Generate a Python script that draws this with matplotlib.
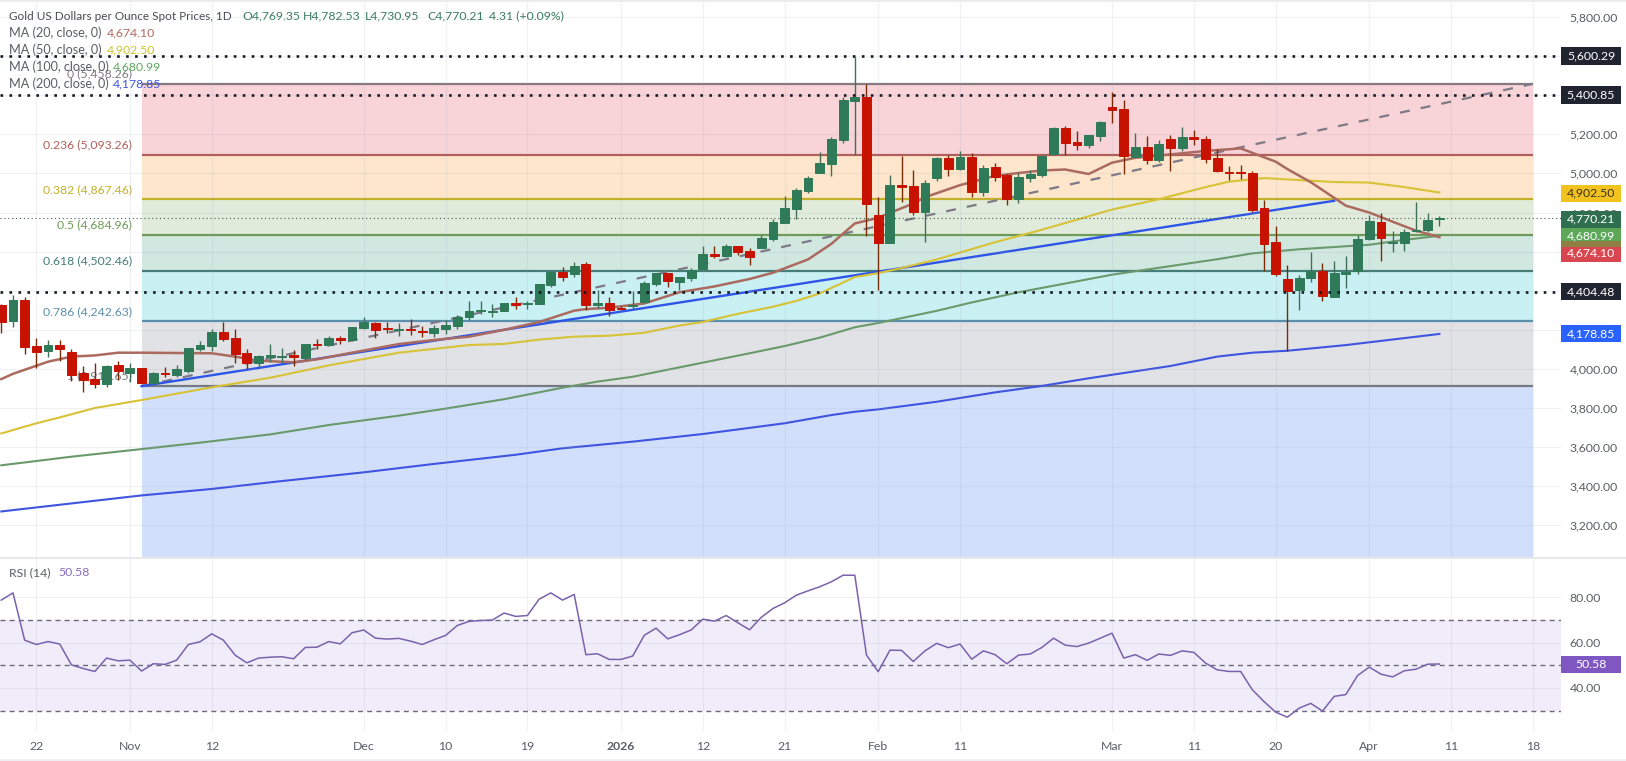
import matplotlib
matplotlib.use("Agg")
from matplotlib import pyplot as plt
from matplotlib.patches import Rectangle

# candles, one row per list, bar 0 is 17 Oct
opens = [4327, 4247, 4352, 4117, 4093, 4122, 4087, 3981, 3950, 3923, 4020, 3981, 4006, 3926, 3981, 3970, 3991, 4102, 4119, 4189,
         4156, 4080, 4032, 4063, 4063, 4073, 4057, 4127, 4124, 4160, 4148, 4209, 4233, 4208, 4201, 4204, 4192, 4185, 4204, 4221,
         4267, 4294, 4293, 4298, 4335, 4332, 4332, 4429, 4494, 4487, 4536, 4327, 4335, 4313, 4321, 4344, 4434, 4492, 4446, 4466,
         4512, 4587, 4577, 4628, 4603, 4618, 4664, 4748, 4819, 4910, 5003, 5049, 5172, 5372, 5392, 4787, 4645, 4940, 4935, 4804,
         4978, 5078, 5022, 5085, 4904, 5032, 4991, 4869, 4976, 4991, 5101, 5230, 5160, 5147, 5191, 5338, 5329, 5085, 5135, 5068,
         5176, 5128, 5186, 5176, 5079, 5005, 5005, 5000, 4821, 4649, 4458, 4404, 4467, 4501, 4369, 4487, 4501, 4663, 4750, 4642,
         4646, 4706, 4709, 4769.35]
highs = [4330, 4378, 4370, 4156, 4148, 4148, 4100, 4015, 4028, 4020, 4040, 4028, 4006, 3982, 4011, 4020, 4109, 4144, 4202, 4240,
         4202, 4100, 4073, 4126, 4105, 4097, 4126, 4151, 4168, 4170, 4213, 4264, 4242, 4242, 4233, 4255, 4221, 4224, 4250, 4275,
         4349, 4349, 4332, 4339, 4366, 4349, 4434, 4497, 4519, 4548, 4548, 4403, 4366, 4321, 4400, 4449, 4492, 4492, 4471, 4514,
         4630, 4628, 4639, 4628, 4616, 4685, 4768, 4884, 4923, 4986, 5111, 5184, 5392, 5597, 5455, 4877, 4991, 5089, 5020, 4966,
         5085, 5094, 5114, 5102, 5041, 5051, 4995, 5000, 5020, 5094, 5235, 5245, 5217, 5199, 5269, 5416, 5378, 5205, 5191, 5170,
         5196, 5239, 5222, 5191, 5123, 5038, 5043, 5014, 4864, 4731, 4531, 4479, 4596, 4543, 4552, 4578, 4683, 4787, 4796, 4705,
         4717, 4855, 4796, 4782.53]
lows = [4182, 4216, 4076, 4003, 4063, 4042, 3940, 3884, 3904, 3909, 3943, 3935, 3923, 3918, 3957, 3960, 3981, 4092, 4093, 4141,
        4028, 3999, 4008, 4037, 4037, 4017, 4046, 4104, 4121, 4127, 4144, 4206, 4158, 4185, 4168, 4173, 4165, 4165, 4178, 4202,
        4250, 4280, 4267, 4296, 4304, 4306, 4332, 4420, 4448, 4472, 4301, 4310, 4270, 4299, 4304, 4335, 4424, 4417, 4403, 4451,
        4509, 4569, 4574, 4581, 4533, 4616, 4656, 4748, 4765, 4898, 5003, 4988, 5157, 5094, 4681, 4403, 4645, 4852, 4787, 4650,
        4962, 4986, 5017, 4877, 4886, 4962, 4838, 4850, 4957, 4983, 5094, 5094, 5119, 5128, 5164, 5259, 4997, 5082, 5048, 5060,
        5014, 5114, 5145, 5055, 5009, 4966, 4971, 4804, 4502, 4477, 4093, 4301, 4446, 4347, 4369, 4415, 4485, 4659, 4552, 4596,
        4605, 4702, 4702, 4730.95]
closes = [4242, 4352, 4114, 4087, 4122, 4102, 3969, 3943, 3923, 4015, 3991, 4006, 3930, 3977, 3976, 3999, 4105, 4122, 4189, 4155,
          4076, 4032, 4066, 4071, 4066, 4059, 4126, 4122, 4156, 4148, 4213, 4240, 4199, 4203, 4206, 4197, 4188, 4207, 4224, 4267,
          4296, 4299, 4298, 4335, 4328, 4337, 4434, 4494, 4470, 4524, 4327, 4335, 4303, 4308, 4328, 4439, 4489, 4449, 4470, 4506,
          4587, 4577, 4628, 4599, 4574, 4669, 4749, 4821, 4915, 4974, 5051, 5176, 5375, 5389, 4846, 4645, 4940, 4932, 4804, 4949,
          5078, 5024, 5085, 4904, 5026, 4983, 4867, 4981, 4997, 5090, 5232, 5157, 5145, 5194, 5264, 5326, 5089, 5135, 5068, 5150,
          5131, 5186, 5174, 5075, 5014, 5000, 5000, 4813, 4639, 4484, 4397, 4463, 4501, 4375, 4489, 4497, 4664, 4757, 4668, 4647,
          4700, 4710, 4762, 4770.21]

ma20_idx = [0, 1, 4, 6, 8, 10, 12, 18, 20, 22, 25, 27, 30, 34, 37, 40, 43, 46, 49, 50, 52, 55, 58, 61, 64, 66, 69, 71, 73, 75,
            76, 78, 79, 82, 85, 87, 89, 91, 93, 95, 97, 100, 103, 106, 109, 110, 112, 115, 117, 119, 121, 123]
ma20_val = [3948, 3975, 4037, 4063, 4069, 4083, 4083, 4080, 4063, 4042, 4034, 4049, 4083, 4127, 4148, 4165, 4200, 4240, 4298,
            4306, 4313, 4335, 4392, 4422, 4460, 4492, 4560, 4640, 4744, 4773, 4798, 4846, 4878, 4940, 4988, 5002, 5015, 5020,
            4997, 5055, 5080, 5097, 5115, 5128, 5060, 5022, 4955, 4835, 4800, 4753, 4707, 4674.10]
ma50_idx = [0, 3, 5, 8, 12, 18, 23, 28, 34, 40, 43, 46, 49, 52, 55, 58, 60, 63, 66, 68, 70, 73, 75, 77, 80, 85, 89, 95, 99, 103,
            105, 108, 111, 114, 117, 120, 123]
ma50_val = [3670, 3722, 3752, 3800, 3841, 3906, 3955, 4018, 4083, 4122, 4128, 4150, 4165, 4170, 4185, 4222, 4240, 4282, 4318,
            4348, 4386, 4470, 4490, 4516, 4560, 4648, 4712, 4815, 4868, 4930, 4958, 4976, 4966, 4956, 4953, 4930, 4902.50]
ma100_idx = [0, 6, 12, 17, 23, 28, 34, 38, 43, 48, 51, 54, 60, 64, 67, 70, 73, 75, 80, 83, 87, 92, 95, 100, 104, 107, 111, 117,
             120, 123]
ma100_val = [3507, 3551, 3590, 3623, 3665, 3713, 3761, 3797, 3845, 3904, 3935, 3960, 4032, 4080, 4117, 4160, 4213, 4235, 4297,
             4340, 4392, 4448, 4482, 4526, 4561, 4591, 4612, 4635, 4660, 4680.99]
ma200_idx = [0, 6, 12, 18, 23, 31, 37, 44, 48, 54, 60, 67, 71, 73, 75, 80, 85, 89, 93, 100, 104, 107, 110, 115, 123]
ma200_val = [3271, 3312, 3353, 3386, 3420, 3471, 3514, 3561, 3594, 3628, 3667, 3722, 3764, 3781, 3793, 3832, 3880, 3913, 3952,
             4015, 4063, 4083, 4093, 4122, 4178.85]

rsi = [78.8, 82.0, 61.1, 59.2, 60.5, 59.4, 50.2, 48.6, 47.3, 53.2, 52.0, 52.3, 47.5, 50.7, 50.4, 52.3, 59.2, 60.4, 63.9, 61.1,
       54.5, 51.1, 53.2, 53.6, 53.8, 52.9, 57.9, 58.0, 60.5, 59.5, 64.4, 65.6, 62.0, 61.6, 61.9, 60.7, 59.2, 61.3, 63.2, 67.6,
       69.4, 69.8, 70.0, 73.1, 71.6, 72.0, 79.2, 82.0, 78.8, 81.3, 54.7, 55.1, 52.6, 52.6, 54.1, 63.3, 66.4, 61.7, 63.5, 65.6,
       70.4, 69.5, 72.0, 68.8, 65.7, 71.2, 75.1, 77.6, 81.0, 82.9, 84.7, 86.9, 89.8, 89.8, 54.5, 47.2, 56.7, 56.6, 51.7, 56.4,
       59.7, 57.8, 59.4, 52.7, 56.4, 54.7, 50.7, 54.5, 55.0, 57.9, 62.0, 58.9, 58.3, 59.8, 62.0, 64.2, 53.2, 54.7, 52.2, 55.0,
       54.4, 56.4, 55.7, 51.0, 48.0, 47.3, 47.3, 39.2, 34.0, 29.3, 27.1, 31.1, 33.2, 29.8, 36.3, 37.1, 45.5, 49.2, 46.1, 44.9,
       47.6, 48.3, 50.5, 50.58]

# fibonacci tool
fib_ratios = ["0", "0.236", "0.382", "0.5", "0.618", "0.786", "1"]
fib_levels = [5458.26, 5093.26, 4867.46, 4684.96, 4502.46, 4242.63, 3911.65]
fib_fills = ["#f8d3d8", "#fde6cb", "#e1ebdc", "#d1e8e1", "#c9f0f3", "#e1e2e5", "#d1dffb"]
fib_lines = ["#857a82", "#b05f5a", "#c4b02a", "#6e9c58", "#467d78", "#5b8fae", "#747a80"]

dotted_levels = [5600.29, 5400.85, 4396]
price_ticks = [5800, 5600, 5400, 5200, 5000, 4800, 4600, 4400, 4200, 4000, 3800, 3600, 3400, 3200]
rsi_ticks = [80, 60, 40]
date_idx = [3, 11, 18, 31, 38, 45, 53, 60, 67, 75, 82, 95, 102, 109, 117, 124, 131]
date_labels = ["22", "Nov", "12", "Dec", "10", "19", "2026", "12", "21", "Feb", "11", "Mar", "11", "20", "Apr", "11", "18"]

W, H = 1626, 761
FONT = "Lato"
GREY = "#5a5d66"
plt.rcParams["font.family"] = [FONT, "DejaVu Sans"]
plt.rcParams["font.size"] = 8.8

fig = plt.figure(figsize=(W / 100, H / 100), dpi=100, facecolor="white")


def px_axes(x0, y0, x1, y1):
    return fig.add_axes([x0 / W, 1 - y1 / H, (x1 - x0) / W, (y1 - y0) / H])


ax = px_axes(0, 0, 1561, 557)
ax_rsi = px_axes(0, 558, 1561, 731)

xlim = (-0.11, 133.4)
ax.set_xlim(xlim)
ax_rsi.set_xlim(xlim)
ax.set_ylim(3038, 5887)
ax_rsi.set_ylim(21, 97.4)

for a in (ax, ax_rsi):
    for s in a.spines.values():
        s.set_visible(False)
    a.yaxis.tick_right()
    a.tick_params(axis="y", length=0, pad=6.2, labelcolor=GREY, labelsize=8.8)
    a.tick_params(axis="x", length=0)
    a.set_xticks(date_idx)
    a.set_axisbelow(False)
    a.grid(True, color=(0.62, 0.66, 0.74), alpha=0.16, lw=0.8, zorder=1.5)

ax.set_yticks(price_ticks)
ax.set_yticklabels([f"{v:,.2f}" for v in price_ticks])
ax.tick_params(axis="x", labelbottom=False)

# fib bands and levels
bottoms = fib_levels[1:] + [ax.get_ylim()[0]]
for top, bot, col in zip(fib_levels, bottoms, fib_fills):
    ax.fill_between([12, 131], bot, top, color=col, lw=0, zorder=1)
for ratio, lvl, col in zip(fib_ratios, fib_levels, fib_lines):
    ax.plot([12, 131], [lvl, lvl], color=col, lw=1.6, solid_capstyle="butt", zorder=2)
    ax.annotate(f"{ratio} ({lvl:,.2f})", xy=(12, lvl), xytext=(-6.9, 7.2), textcoords="offset points",
                ha="right", va="center", color=col, fontsize=8.8, zorder=1.8)

# drawn trend lines
ax.plot([12, 131], [fib_levels[-1], fib_levels[0]], color="#7d7a86", lw=1.6, ls=(0, (4.5, 5)), zorder=2.2)
ax.plot([12, 114], [3912, 4860], color="#2f55e8", lw=1.7, zorder=2.4)

# moving averages
ax.plot(ma200_idx, ma200_val, color="#3f55e0", lw=1.5, zorder=2.4)
ax.plot(ma100_idx, ma100_val, color="#6a9a6c", lw=1.5, zorder=2.4)
ax.plot(ma50_idx, ma50_val, color="#d8c235", lw=1.5, zorder=2.4)
ax.plot(ma20_idx, ma20_val, color="#ab6a60", lw=1.8, zorder=2.6)

# candles
for i, (o, hi, lo, c) in enumerate(zip(opens, highs, lows, closes)):
    up = c >= o
    body = "#2f7a58" if up else "#c81200"
    wick = "#41705a" if up else "#7a2c06"
    ax.vlines(i, lo, hi, color=wick, lw=1.0, zorder=3)
    ax.bar(i, abs(c - o), bottom=min(o, c), width=0.76, color=body, edgecolor=body, lw=0.7, zorder=3.2)

# horizontal rays and last price line
for lvl in dotted_levels:
    ax.plot(xlim, [lvl, lvl], color="#151a24", lw=1.9, ls=(0, (1, 2.4)), solid_capstyle="butt", zorder=4)
ax.plot(xlim, [closes[-1], closes[-1]], color="#3e5f50", lw=0.8, ls=(0, (1, 2.5)), zorder=2.8)

# rsi pane
ax_rsi.axhspan(30, 70, color="#f0ecf9", lw=0, zorder=1)
for lvl in (30, 50, 70):
    ax_rsi.plot(xlim, [lvl, lvl], color="#6c6a78", lw=1.0, ls=(0, (3.6, 3)), zorder=2)
ax_rsi.plot(range(len(rsi)), rsi, color="#7a62ac", lw=1.1, zorder=3)
ax_rsi.set_yticks(rsi_ticks)
ax_rsi.set_yticklabels([f"{v:.2f}" for v in rsi_ticks])
ax_rsi.set_xticklabels(date_labels)
ax_rsi.tick_params(axis="x", pad=7, labelcolor=GREY, labelsize=8.8)
ax_rsi.get_xticklabels()[6].set_fontweight("bold")


def px_text(x, y, s, color=GREY, size=8.8, ha="left", **kw):
    fig.text(x / W, 1 - y / H, s, color=color, fontsize=size, ha=ha, va="center", zorder=8, **kw)


def px_rect(x, y, w, h, color, z=5):
    fig.add_artist(Rectangle((x / W, 1 - (y + h) / H), w / W, h / H, transform=fig.transFigure,
                             facecolor=color, edgecolor="none", zorder=z))


# frame strips
px_rect(0, 0, W, 1.5, "#ececee")
px_rect(0, 556.5, W, 2, "#e8e8ea")
px_rect(0, 758.5, W, 3, "#f0f0f2")

# price boxes on the right axis
px_rect(1561, 47.5, 60, 17, "#1f2430")
px_text(1591, 56, "5,600.29", "white", ha="center")
px_rect(1561, 86.5, 60, 17, "#1f2430")
px_text(1591, 95, "5,400.85", "white", ha="center")
px_rect(1561, 184.5, 60, 17, "#f2c21f")
px_text(1591, 193, "4,902.50", "#3a3320", ha="center")
px_rect(1561, 210.5, 60, 17, "#2f6f50")
px_text(1591, 219, "4,770.21", "white", ha="center")
px_rect(1561, 227.5, 60, 17, "#5ca858")
px_text(1591, 236, "4,680.99", "white", ha="center")
px_rect(1561, 244.5, 60, 17, "#d8474f")
px_rect(1561, 241, 60, 6, "#8f7f42", z=5.5)
px_text(1591, 253, "4,674.10", "white", ha="center")
px_rect(1561, 283, 60, 17, "#1f2430")
px_text(1591, 291.5, "4,404.48", "white", ha="center")
px_rect(1561, 325.5, 60, 17, "#2962ff")
px_text(1591, 334, "4,178.85", "white", ha="center")
px_rect(1561, 655.5, 60, 17, "#7e57c2")
px_text(1591, 664, "50.58", "white", ha="center")

# legend block
px_text(9, 16, "Gold US Dollars per Ounce Spot Prices, 1D", "#4a4d55", size=8.5)
green_txt = "#3b7d5f"
px_text(242, 16, "O4,769.35", green_txt)
px_text(303, 16, "H4,782.53", green_txt)
px_text(365, 16, "L4,730.95", green_txt)
px_text(427, 16, "C4,770.21", green_txt)
px_text(489, 16, "4.31 (+0.09%)", green_txt)
px_text(9, 33, "MA (20, close, 0)", "#5a5d66", size=9.1)
px_text(107, 33, "4,674.10", "#b06a5e")
px_text(9, 50, "MA (50, close, 0)", "#5a5d66", size=9.1)
px_text(107, 50, "4,902.50", "#d2c22a")
px_text(9, 67, "MA (100, close, 0)", "#5a5d66", size=9.1)
px_text(113, 67, "4,680.99", "#5fa75f")
px_text(9, 84, "MA (200, close, 0)", "#5a5d66", size=9.1)
px_text(113, 84, "4,178.85", "#3f55e0")
px_text(9, 573, "RSI (14)", "#5a5d66")
px_text(58, 573, "50.58", "#8a6cc0")

fig.savefig("out.png", dpi=100, facecolor="white")
